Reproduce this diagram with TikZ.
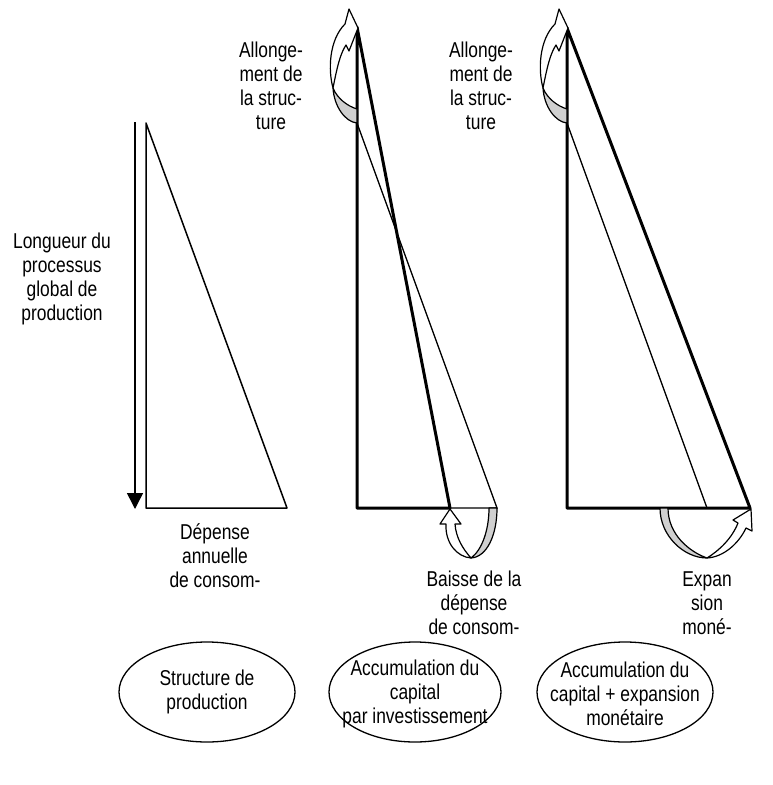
\documentclass[tikz,border=0pt]{standalone}
\usepackage{fontspec}
\setmainfont{Liberation Sans}[FakeStretch=0.81]
\usetikzlibrary{arrows.meta,shapes.geometric}
\definecolor{ribbon}{RGB}{208,208,208}
\begin{document}
\begin{tikzpicture}[x=1pt,y=-1pt,
  txt/.style={font=\fontsize{21.5}{24}\selectfont, align=center, inner sep=0pt},
  thickline/.style={line width=3pt, line join=round},
  thinline/.style={line width=1.3pt},
  frameline/.style={line width=1.5pt},
  ribbonw/.style={draw, fill=white, line width=1.2pt, line join=round},
  ribbong/.style={draw, fill=ribbon, line width=1.2pt, line join=round},
  ell/.style={draw, ellipse, line width=1.3pt, minimum width=176pt, minimum height=100pt, inner sep=0pt},
  toparrow/.pic={
    \path[ribbonw] (-12,24) .. controls (-28,40) and (-29,70) .. (-24,88)
       .. controls (-20,68) and (-17,54) .. (-11,45) -- (-8,51) -- (1,28) -- (-8,9) -- cycle;
    \path[ribbong] (-24,88) .. controls (-23,106) and (-12,122) .. (0,123)
       -- (0,109) .. controls (-10,106) and (-20,98) .. (-24,88) -- cycle;
  }]
\useasboundingbox (0,0) rectangle (772,785);

% ---------- panel 1 ----------
\coordinate (a1t) at (135,122);
\coordinate (a1b) at (135,509);
\draw[frameline, -{Triangle[length=16pt,width=16pt]}] (a1t) -- (a1b);
\coordinate (t1a) at (146,123);
\coordinate (t1b) at (146,508);
\coordinate (t1c) at (287,508);
\draw[frameline, line join=round] (t1a) -- (t1b) -- (t1c) -- cycle;
\node[txt] (longueur) at (62,279) {Longueur du\\processus\\global de\\production};
\node[txt] (depense) at (215,556) {Dépense\\annuelle\\de consom-};

% ---------- panel 2 ----------
\coordinate (p2top) at (357,27);
\coordinate (p2mid) at (357,123);
\coordinate (p2c) at (357,508);
\coordinate (p2b) at (450,508);
\coordinate (p2e) at (497,508);
\draw[thinline] (p2mid) -- (p2e) -- (p2b);
\draw[thickline] (p2top) -- (p2c) -- (p2b) -- cycle;
\pic at (357,0) {toparrow};
\path[ribbong] (471,558) .. controls (487,557) and (497,535) .. (497,508)
   -- (489,508) .. controls (489,530) and (482,550) .. (471,558) -- cycle;
\path[ribbonw] (446,524) .. controls (445,543) and (457,557) .. (471,558)
   .. controls (463,549) and (456,538) .. (455,524) -- (461,524) -- (450,509) -- (440,524) -- cycle;
\node[txt] (allong2) at (271,86) {Allonge-\\ment de\\la struc-\\ture};
\node[txt] (baisse) at (474,603) {Baisse de la\\dépense\\de consom-};

% ---------- panel 3 ----------
\coordinate (p3top) at (567,28);
\coordinate (p3mid) at (567,123);
\coordinate (p3c) at (567,508);
\coordinate (p3b) at (750,508);
\coordinate (p3e) at (707,508);
\draw[thinline] (p3mid) -- (p3e);
\draw[thickline] (p3top) -- (p3c) -- (p3b) -- cycle;
\pic at (567,0) {toparrow};
\path[ribbong] (660,508) .. controls (660,536) and (684,558) .. (707,558)
   .. controls (690,552) and (668,535) .. (668,508) -- cycle;
\path[ribbonw] (707,558) .. controls (724,557) and (739,543) .. (746,528)
   -- (752,531) -- (751,509) -- (733,520) -- (738,523)
   .. controls (732,538) and (720,550) .. (707,558) -- cycle;
\node[txt] (allong3) at (481,86) {Allonge-\\ment de\\la struc-\\ture};
\node[txt] (expan) at (707,603) {Expan\\sion\\moné-};

% ---------- ellipses ----------
\node[ell] (e1) at (207,692) {};
\node[ell, minimum width=172pt] (e2) at (415,692) {};
\node[ell] (e3) at (625,692) {};
\node[txt] (e1t) at (e1) {Structure de\\production};
\node[txt] (e2t) at ([yshift=-2pt]e2.center) {Accumulation du\\capital\\par investissement};
\node[txt] (e3t) at ([yshift=-2pt]e3.center) {Accumulation du\\capital + expansion\\monétaire};
\end{tikzpicture}
\end{document}
